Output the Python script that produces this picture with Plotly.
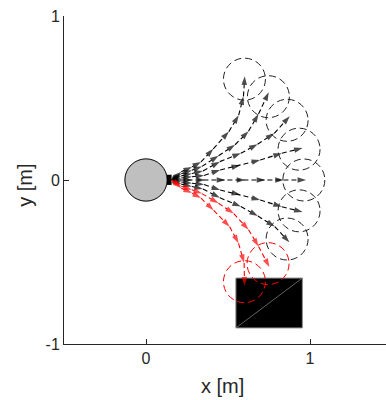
import plotly.graph_objects as go

# ---------------- data ----------------
# trajectories (x, y); first point is the start
t60_x = [0.155, 0.215, 0.28, 0.335, 0.41, 0.505, 0.565, 0.594, 0.602]
t60_y = [0.0, 0.05, 0.08, 0.11, 0.19, 0.295, 0.395, 0.51, 0.632]
t45_x = [0.155, 0.215, 0.28, 0.341, 0.442, 0.543, 0.625, 0.686, 0.748]
t45_y = [0.0, 0.038, 0.06, 0.083, 0.148, 0.215, 0.298, 0.402, 0.535]
t30_x = [0.155, 0.215, 0.28, 0.347, 0.45, 0.578, 0.68, 0.782, 0.876]
t30_y = [0.0, 0.025, 0.04, 0.055, 0.112, 0.163, 0.218, 0.285, 0.388]
t15_x = [0.155, 0.215, 0.28, 0.354, 0.452, 0.574, 0.696, 0.828, 0.955]
t15_y = [0.0, 0.012, 0.02, 0.028, 0.061, 0.09, 0.122, 0.163, 0.195]
t0_x = [0.155, 0.215, 0.28, 0.36, 0.483, 0.605, 0.727, 0.84, 0.976]
t0_y = [0.0, 0.0, 0.0, 0.0, 0.0, 0.0, 0.0, 0.0, 0.0]
tm15_x = [0.155, 0.215, 0.28, 0.354, 0.452, 0.574, 0.696, 0.828, 0.955]
tm15_y = [0.0, -0.012, -0.02, -0.028, -0.061, -0.09, -0.122, -0.163, -0.195]
tm30_x = [0.155, 0.215, 0.28, 0.347, 0.45, 0.578, 0.682, 0.785, 0.874]
tm30_y = [0.0, -0.025, -0.04, -0.055, -0.108, -0.162, -0.22, -0.284, -0.38]
tm45_x = [0.155, 0.215, 0.28, 0.341, 0.442, 0.535, 0.625, 0.686, 0.752]
tm45_y = [0.0, -0.038, -0.06, -0.083, -0.142, -0.205, -0.303, -0.405, -0.53]
tm60_x = [0.155, 0.215, 0.28, 0.335, 0.412, 0.51, 0.564, 0.598, 0.601]
tm60_y = [0.0, -0.05, -0.08, -0.11, -0.185, -0.285, -0.386, -0.506, -0.643]

black_traj = [(t60_x, t60_y), (t45_x, t45_y), (t30_x, t30_y), (t15_x, t15_y),
              (t0_x, t0_y), (tm15_x, tm15_y), (tm30_x, tm30_y)]
red_traj = [(tm45_x, tm45_y), (tm60_x, tm60_y)]

# target circles
black_cx = [0.600, 0.746, 0.860, 0.933, 0.962, 0.933, 0.860]
black_cy = [0.615, 0.508, 0.364, 0.188, 0.000, -0.188, -0.360]
red_cx = [0.744, 0.600]
red_cy = [-0.510, -0.620]
target_r = 0.128

# robot base
base_c = [0.0, 0.0]
base_r = 0.129
gripper_x = [0.128, 0.156]
gripper_y = [-0.03, 0.032]

# obstacle box
box_x = [0.548, 0.953]
box_y = [-0.902, -0.598]

x_range = [-0.5, 1.463]
y_range = [-1.0, 1.0]
x_ticks = [0, 1]
y_ticks = [-1, 0, 1]
y_ticktext = ["-1", "0", "1"]

FONT = "Liberation Sans, Arial, Helvetica, sans-serif"
AX = "#262626"

fig = go.Figure()

shapes = []
# obstacle
shapes.append(dict(type="rect", xref="x", yref="y", x0=box_x[0], x1=box_x[1],
                   y0=box_y[0], y1=box_y[1], fillcolor="black",
                   line=dict(color="#8a8a8a", width=1), layer="below"))
shapes.append(dict(type="line", xref="x", yref="y", x0=box_x[0], x1=box_x[1],
                   y0=box_y[0], y1=box_y[1], line=dict(color="#7a7a7a", width=0.8),
                   layer="below"))
# base
shapes.append(dict(type="circle", xref="x", yref="y",
                   x0=base_c[0] - base_r, x1=base_c[0] + base_r,
                   y0=base_c[1] - base_r, y1=base_c[1] + base_r,
                   fillcolor="#bfbfbf", line=dict(color="black", width=1), layer="below"))
shapes.append(dict(type="rect", xref="x", yref="y", x0=gripper_x[0], x1=gripper_x[1],
                   y0=gripper_y[0], y1=gripper_y[1], fillcolor="black",
                   line=dict(color="black", width=0), layer="below"))

def add_traj(xs, ys, color):
    sizes = [0] + [9] * (len(xs) - 1)
    fig.add_trace(go.Scatter(
        x=xs, y=ys, mode="lines+markers",
        line=dict(color=color, width=1.1, dash="5px,3px"),
        marker=dict(symbol="arrow", angleref="previous", size=sizes, color=color,
                    line=dict(width=0)),
        hoverinfo="skip", showlegend=False))

for xs, ys in black_traj:
    add_traj(xs, ys, "black")
for xs, ys in red_traj:
    add_traj(xs, ys, "#ff0000")

for cx, cy in zip(black_cx, black_cy):
    shapes.append(dict(type="circle", xref="x", yref="y",
                       x0=cx - target_r, x1=cx + target_r, y0=cy - target_r, y1=cy + target_r,
                       line=dict(color="#222222", width=1, dash="7px,4px"), layer="above"))
for cx, cy in zip(red_cx, red_cy):
    shapes.append(dict(type="circle", xref="x", yref="y",
                       x0=cx - target_r, x1=cx + target_r, y0=cy - target_r, y1=cy + target_r,
                       line=dict(color="#ff0000", width=1, dash="7px,4px"), layer="above"))

fig.update_layout(
    width=386, height=400,
    margin=dict(l=64, r=0, t=16, b=56),
    paper_bgcolor="white", plot_bgcolor="white",
    shapes=shapes,
    font=dict(family=FONT, color=AX, size=16),
    xaxis=dict(range=x_range, tickvals=x_ticks, ticktext=[str(v) for v in x_ticks],
               showline=True, linecolor=AX, linewidth=1, ticks="inside", ticklen=5,
               tickcolor=AX, showgrid=False, zeroline=False, fixedrange=True,
               tickfont=dict(size=16, family=FONT, color=AX)),
    yaxis=dict(range=y_range, tickvals=y_ticks, ticktext=y_ticktext,
               showline=True, linecolor=AX, linewidth=1, ticks="inside", ticklen=5,
               tickcolor=AX, showgrid=False, zeroline=False, fixedrange=True,
               tickfont=dict(size=16, family=FONT, color=AX)),
    annotations=[
        dict(text="x [m]", xref="x", yref="paper", x=0.467, y=0, yanchor="middle",
             yshift=-42, showarrow=False, font=dict(size=20, family=FONT, color=AX)),
        dict(text="y [m]", xref="paper", yref="y", x=0, y=-0.035, xanchor="center",
             xshift=-39, textangle=-90, showarrow=False,
             font=dict(size=20, family=FONT, color=AX)),
    ],
)

fig.write_html("out.html")
